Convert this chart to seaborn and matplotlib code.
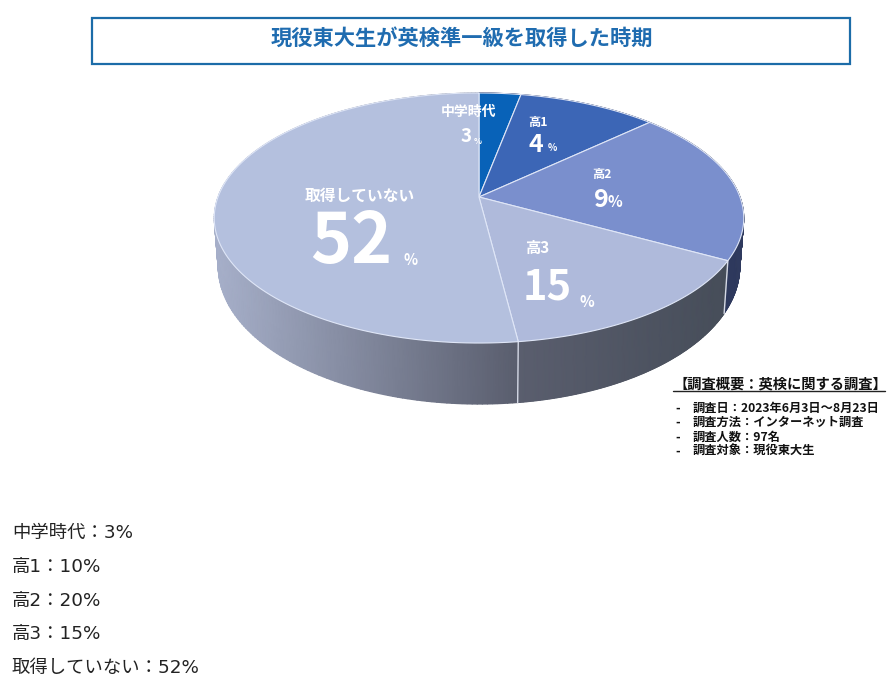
import numpy as np
import matplotlib
matplotlib.use("Agg")
import matplotlib.pyplot as plt
import seaborn as sns
from matplotlib.colors import LinearSegmentedColormap
from matplotlib.patches import Rectangle
from matplotlib.path import Path
from matplotlib.transforms import Affine2D, Transform

# data
categories = ['中学時代', '高1', '高2', '高3', '取得していない']
shares = [3, 10, 20, 15, 52]
shown_pct = ['3', '4', '9', '15', '52']  # the labels on the slices differ from the list below
title = '現役東大生が英検準一級を取得した時期'
note_title = '【調査概要：英検に関する調査】'
note_lines = ['調査日：2023年6月3日～8月23日', '調査方法：インターネット調査', '調査人数：97名', '調査対象：現役東大生']

slice_colors = ['#0862b8', '#3c66b6', '#7a8fcd', '#afbadb', '#b4c0de']
wall_colors = [('#20305c', '#20305c'), ('#20305c', '#20305c'), ('#2a3558', '#2f3a5e'),
               ('#5a5e6e', '#464d59'), ('#a7b0ca', '#5a5e6e')]

# perspective of the pie, fitted to the picture
HUB_X, HUB_Y = 479, 197
RX, RY, TILT = 261, 121.5, 0.168


class PieTilt(Transform):
    input_dims = 2
    output_dims = 2

    def transform_non_affine(self, xy):
        xy = np.asarray(xy, dtype=float)
        w = 1 + TILT * xy[:, 1]
        return np.column_stack([HUB_X + RX * xy[:, 0] / w, HUB_Y - RY * xy[:, 1] / w])

    def transform_path_non_affine(self, path):
        flat = path.to_polygons(Affine2D().scale(2000))[0] / 2000
        return Path(self.transform_non_affine(flat))


tilt = PieTilt()


def top_rim(deg):
    t = np.radians(deg)
    return tilt.transform_non_affine(np.column_stack([np.sin(t), np.cos(t)]))


def bottom_rim(deg):
    p = top_rim(deg)
    return np.column_stack([HUB_X + 0.985 * (p[:, 0] - HUB_X), HUB_Y + 46.5 + 1.1 * (p[:, 1] - HUB_Y)])


sns.set_theme(style="white")
plt.rcParams['font.family'] = ['Noto Sans CJK JP', 'DejaVu Sans']
palette = sns.color_palette(slice_colors)

fig = plt.figure(figsize=(8.94, 6.86), dpi=100)
ax = fig.add_axes([0, 0, 1, 1])

# side wall
edges = np.concatenate([[0], np.cumsum(shares)]) * 360 / sum(shares)
for i in range(len(shares)):
    deg = np.linspace(edges[i], edges[i + 1], 200)
    top, bot = top_rim(deg), bottom_rim(deg)
    X = np.vstack([top[:, 0], bot[:, 0]])
    Y = np.vstack([top[:, 1], bot[:, 1]])
    C = (X - X.min()) / (X.max() - X.min())
    cmap = LinearSegmentedColormap.from_list('wall', wall_colors[i])
    ax.pcolormesh(X, Y, C, cmap=cmap, vmin=0, vmax=1, shading='gouraud', zorder=1)

for e in edges[3:5]:
    top, bot = top_rim([e]), bottom_rim([e])
    ax.plot([top[0, 0], bot[0, 0]], [top[0, 1], bot[0, 1]], color='#d5d9e6', lw=1, zorder=2)

# top of the pie
wedges, _ = ax.pie(shares, colors=palette, startangle=90, counterclock=False,
                   wedgeprops=dict(edgecolor='#dfe6f7', linewidth=0.8))
for w in wedges:
    w.set_transform(tilt + ax.transData)
    w.set_zorder(3)

ax.set_aspect('auto')
ax.set_xlim(0, 894)
ax.set_ylim(686, 0)
ax.axis('off')

# slice labels
ax.text(469, 112, categories[0], color='white', fontsize=10, fontweight='bold', ha='center', va='center', zorder=5)
ax.text(466, 136, shown_pct[0], color='white', fontsize=13.5, fontweight='bold', ha='center', va='center', zorder=5)
ax.text(478, 141, '%', color='white', fontsize=6, fontweight='bold', ha='center', va='center', zorder=5)

ax.text(538, 122, categories[1], color='white', fontsize=8.8, fontweight='bold', ha='center', va='center', zorder=5)
ax.text(536, 145, shown_pct[1], color='white', fontsize=18, fontweight='bold', ha='center', va='center', zorder=5)
ax.text(552, 148, '%', color='white', fontsize=7, fontweight='bold', ha='center', va='center', zorder=5)

ax.text(602, 174, categories[2], color='white', fontsize=8.8, fontweight='bold', ha='center', va='center', zorder=5)
ax.text(601, 200, shown_pct[2], color='white', fontsize=18, fontweight='bold', ha='center', va='center', zorder=5)
ax.text(615, 202, '%', color='white', fontsize=11, fontweight='bold', ha='center', va='center', zorder=5)

ax.text(537, 248, categories[3], color='white', fontsize=11, fontweight='bold', ha='center', va='center', zorder=5)
ax.text(547, 287, shown_pct[3], color='white', fontsize=30, fontweight='bold', ha='center', va='center', zorder=5)
ax.text(587, 302, '%', color='white', fontsize=11, fontweight='bold', ha='center', va='center', zorder=5)

ax.text(360, 196, categories[4], color='white', fontsize=11.3, fontweight='bold', ha='center', va='center', zorder=5)
ax.text(351.5, 243, shown_pct[4], color='white', fontsize=50, fontweight='bold', ha='center', va='center', zorder=5)
ax.text(411, 260, '%', color='white', fontsize=10.5, fontweight='bold', ha='center', va='center', zorder=5)

# title box
ax.add_patch(Rectangle((92, 18), 758, 46, fill=False, edgecolor='#1c6ca8', lw=1.6, zorder=5))
ax.text(461.5, 38, title, color='#1f6cb0', fontsize=15.3, fontweight='bold', ha='center', va='center', zorder=5)

# survey note
ax.text(780, 384, note_title, color='#111111', fontsize=10.3, fontweight='bold', ha='center', va='center', zorder=5)
ax.plot([673, 885], [390.5, 390.5], color='#222222', lw=1, zorder=5)
for y, line in zip([408, 422, 437, 451], note_lines):
    ax.text(675, y, '-', color='#111111', fontsize=8.8, fontweight='bold', ha='left', va='center', zorder=5)
    ax.text(693, y, line, color='#111111', fontsize=8.8, fontweight='bold', ha='left', va='center', zorder=5)

# list under the chart
for y, cat, pct in zip([533, 567, 601, 634, 668], categories, shares):
    ax.text(12, y, f'{cat}：{pct}%', color='#222222', fontsize=13.2, family=['DejaVu Sans', 'Noto Sans CJK JP'],
            ha='left', va='center', zorder=5)

fig.savefig('out.png', dpi=100)
plt.close(fig)
